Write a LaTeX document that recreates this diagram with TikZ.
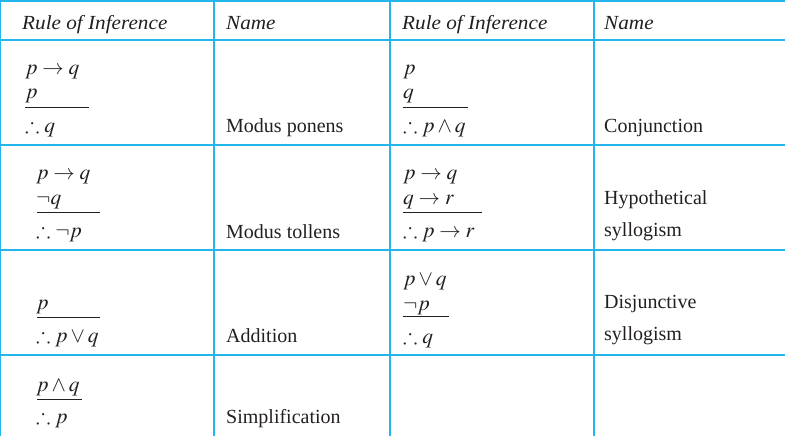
\documentclass[tikz,border=0pt]{standalone}
\usepackage{mathptmx}
\usepackage{amssymb}
\usepackage[no-math]{fontspec}
\setmainfont{Liberation Serif}
\definecolor{grid}{RGB}{35,182,236}
\definecolor{ink}{RGB}{35,31,32}
\newcommand{\hdr}[1]{\scalebox{1.06}[1.0]{\textit{#1}}}
\begin{document}
\begin{tikzpicture}[x=1pt,y=-1pt,
  txt/.style={anchor=base west,inner sep=0pt,text=ink,font=\fontsize{20}{24}\selectfont},
  mth/.style={anchor=base west,inner sep=0pt,text=ink,font=\fontsize{21.5}{24}\selectfont},
  hline/.style={draw=grid,line width=1.8pt},
  vline/.style={draw=grid,line width=1.4pt},
  bar/.style={draw=ink,line width=0.9pt}]
\useasboundingbox (0,0) rectangle (785,436);
% grid
\foreach \yy in {1,40,145,250,355} \draw[hline] (0,\yy) -- (785,\yy);
\foreach \xx in {0.7,214,390,594} \draw[vline] (\xx,0) -- (\xx,436);
\draw[draw=grid,line width=0.8pt] (785,0) -- (785,436);
% header
\node[txt] (h1) at (22,30) {\hdr{Rule of Inference}};
\node[txt] (h2) at (226,30) {\hdr{Name}};
\node[txt] (h3) at (402,30) {\hdr{Rule of Inference}};
\node[txt] (h4) at (604,30) {\hdr{Name}};
% row 1 left
\node[mth] (a1) at (25,75) {$p\to q$};
\node[mth] (a2) at (25,99) {$p$};
\draw[bar] (25,107) -- (89,107);
\node[mth] (a3) at (25,132) {$\therefore q$};
\node[txt] (an) at (226,132) {Modus ponens};
% row 1 right
\node[mth] (b1) at (403,75) {$p$};
\node[mth] (b2) at (403,99) {$q$};
\draw[bar] (403,107) -- (468,107);
\node[mth] (b3) at (403,132) {$\therefore p\wedge q$};
\node[txt] (bn) at (604,132) {Conjunction};
% row 2 left
\node[mth] (c1) at (36,179) {$p\to q$};
\node[mth] (c2) at (36,204) {$\neg q$};
\draw[bar] (37,212) -- (100,212);
\node[mth] (c3) at (36,237) {$\therefore \neg p$};
\node[txt] (cn) at (226,238) {Modus tollens};
% row 2 right
\node[mth] (d1) at (403,179) {$p\to q$};
\node[mth] (d2) at (403,204) {$q\to r$};
\draw[bar] (403,212) -- (482,212);
\node[mth] (d3) at (403,237) {$\therefore p\to r$};
\node[txt] (dn1) at (604,204) {Hypothetical};
\node[txt] (dn2) at (604,236) {syllogism};
% row 3 left
\node[mth] (e1) at (36,309) {$p$};
\draw[bar] (37,317) -- (100,317);
\node[mth] (e2) at (36,342) {$\therefore p\vee q$};
\node[txt] (en) at (226,342) {Addition};
% row 3 right
\node[mth] (f1) at (403,285) {$p\vee q$};
\node[mth] (f2) at (403,310) {$\neg p$};
\draw[bar] (403,316) -- (449,316);
\node[mth] (f3) at (403,343) {$\therefore q$};
\node[txt] (fn1) at (604,308) {Disjunctive};
\node[txt] (fn2) at (604,340) {syllogism};
% row 4 left
\node[mth] (g1) at (36,391) {$p\wedge q$};
\draw[bar] (37,399) -- (82,399);
\node[mth] (g2) at (36,423) {$\therefore p$};
\node[txt] (gn) at (226,423) {Simplification};
\end{tikzpicture}
\end{document}
